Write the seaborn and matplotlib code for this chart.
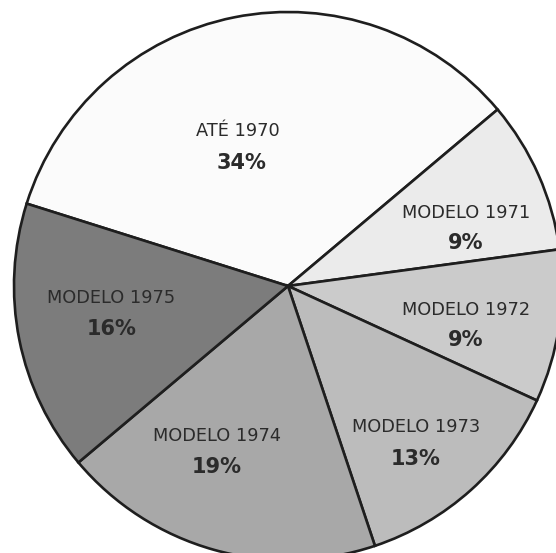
import matplotlib
matplotlib.use("Agg")
import matplotlib.pyplot as plt
import seaborn as sns

# ---- data ----
categories = ["ATÉ 1970", "MODELO 1971", "MODELO 1972", "MODELO 1973", "MODELO 1974", "MODELO 1975"]
shares = [34, 9, 9, 13, 19, 16]
pct_labels = ["34%", "9%", "9%", "13%", "19%", "16%"]

# ---- styles / layout ----
colors = ["#fbfbfb", "#ebebeb", "#cbcbcb", "#bcbcbc", "#a8a8a8", "#7c7c7c"]
# label centers in pixel coordinates (x, y from top)
name_pos = [(238, 131), (466, 213), (466, 310), (416, 427), (217, 436), (111, 298)]
pct_pos = [(241, 163), (466, 243), (466, 340), (416, 459), (217, 467), (112, 329)]

sns.set_theme(style="white")
plt.rcParams["font.family"] = ["DejaVu Sans"]

W, H = 556, 553
fig = plt.figure(figsize=(W / 100, H / 100), dpi=100)
fig.patch.set_facecolor("white")
ax = fig.add_axes([0, 0, 1, 1])

ax.pie(
    shares,
    colors=colors,
    startangle=162.5,
    counterclock=False,
    center=(288, H - 286),
    radius=274,
    wedgeprops=dict(edgecolor="#1e1e1e", linewidth=1.9),
    frame=False,
)
ax.set_xlim(0, W)
ax.set_ylim(0, H)
ax.set_aspect("equal")
ax.axis("off")

txt_color = "#2b2b2b"
for name, pct, (nx, ny), (px, py) in zip(categories, pct_labels, name_pos, pct_pos):
    ax.text(nx, H - ny, name, ha="center", va="center", fontsize=12.8,
            color=txt_color)
    ax.text(px, H - py, pct, ha="center", va="center", fontsize=15,
            fontweight="bold", color=txt_color)

fig.savefig("out.png", dpi=100, facecolor="white")
